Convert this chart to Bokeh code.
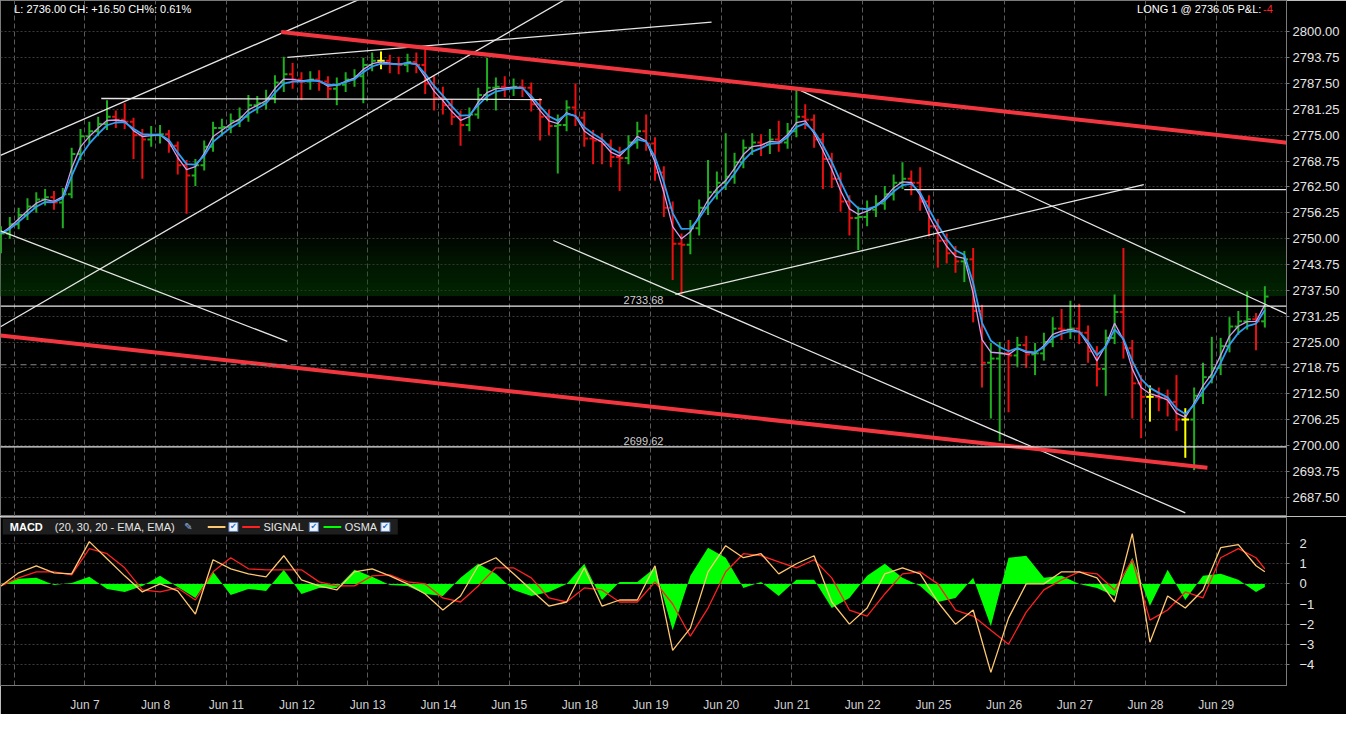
import pandas as pd
from bokeh.plotting import figure
from bokeh.layouts import column
from bokeh.models import (Range1d, FixedTicker, PrintfTickFormatter, Span, Label,
                          ColumnDataSource, CustomJSTickFormatter)
from bokeh.embed import file_html
from bokeh.resources import INLINE

# ---------------- data ----------------
first_open = 2750.50
bar_close = [
    2751.25, 2753.50, 2755.75, 2757.75, 2759.50, 2760.00, 2758.75, 2760.75,
    2770.50, 2774.75, 2776.00, 2777.75, 2779.50, 2778.75, 2778.25, 2775.00,
    2774.00, 2775.00, 2775.25, 2772.50, 2767.75, 2765.25, 2767.75, 2772.25,
    2776.75, 2777.00, 2778.50, 2779.50, 2782.25, 2782.75, 2784.00, 2787.75,
    2789.75, 2788.50, 2788.00, 2788.50, 2788.00, 2786.25, 2787.25, 2788.50,
    2789.25, 2792.00, 2793.00, 2793.00, 2792.25, 2792.00, 2792.75, 2792.00,
    2787.50, 2784.00, 2782.25, 2779.50, 2777.50, 2780.00, 2784.75, 2786.50,
    2786.75, 2786.50, 2786.75, 2786.50, 2782.50, 2779.50, 2777.25, 2777.50,
    2781.75, 2779.25, 2774.25, 2773.75, 2772.75, 2769.75, 2769.50, 2773.25,
    2776.00, 2773.00, 2766.00, 2757.50, 2748.75, 2748.50, 2752.50, 2757.50,
    2761.25, 2763.50, 2765.00, 2768.50, 2772.00, 2773.25, 2772.75, 2774.00,
    2773.25, 2776.00, 2779.50, 2778.75, 2774.00, 2769.25, 2764.50, 2759.00,
    2755.00, 2755.25, 2757.00, 2758.50, 2760.75, 2763.50, 2764.50, 2763.50,
    2759.00, 2753.00, 2749.50, 2746.50, 2744.50, 2745.00, 2732.50, 2720.00,
    2721.00, 2722.25, 2721.75, 2724.25, 2722.00, 2722.25, 2725.00, 2728.25,
    2728.00, 2728.25, 2727.25, 2722.75, 2718.50, 2726.00, 2732.25, 2723.50,
    2715.00, 2711.75, 2711.75, 2711.50, 2710.50, 2706.25, 2706.25, 2712.00,
    2716.50, 2718.75, 2724.00, 2728.75, 2730.00, 2730.50, 2730.00, 2736.00,
]
bar_high = [
    2753.00, 2755.25, 2757.50, 2759.75, 2761.25, 2762.00, 2761.50, 2762.25,
    2772.00, 2776.50, 2778.25, 2779.50, 2783.50, 2781.00, 2782.75, 2779.25,
    2776.50, 2777.25, 2777.50, 2776.25, 2773.50, 2769.00, 2769.25, 2773.75,
    2778.25, 2779.00, 2780.25, 2781.75, 2784.75, 2784.50, 2786.00, 2789.50,
    2794.00, 2792.50, 2790.25, 2790.50, 2790.75, 2789.25, 2789.00, 2790.25,
    2791.00, 2793.75, 2795.00, 2795.25, 2794.50, 2794.00, 2794.75, 2795.00,
    2795.75, 2789.25, 2786.75, 2783.75, 2781.00, 2781.75, 2786.50, 2793.75,
    2789.00, 2789.25, 2788.75, 2788.50, 2787.75, 2784.00, 2781.25, 2780.00,
    2783.50, 2787.50, 2780.75, 2776.25, 2775.50, 2774.00, 2772.25, 2775.00,
    2778.25, 2780.00, 2774.50, 2767.50, 2759.00, 2751.25, 2754.50, 2759.50,
    2769.00, 2766.25, 2775.50, 2770.75, 2774.00, 2775.50, 2775.25, 2776.50,
    2778.50, 2778.00, 2786.25, 2782.50, 2780.00, 2775.50, 2770.75, 2766.00,
    2760.50, 2757.75, 2759.25, 2760.50, 2762.75, 2765.50, 2768.50, 2766.50,
    2767.25, 2760.50, 2754.75, 2751.25, 2748.25, 2747.00, 2747.75, 2734.00,
    2724.75, 2725.00, 2725.50, 2726.25, 2726.50, 2724.75, 2727.25, 2731.00,
    2733.00, 2735.00, 2734.25, 2729.00, 2724.00, 2728.00, 2736.50, 2747.75,
    2725.50, 2717.00, 2714.50, 2714.00, 2713.50, 2717.00, 2709.00, 2714.00,
    2720.00, 2726.25, 2726.00, 2731.00, 2732.50, 2737.25, 2732.00, 2738.50,
]
bar_low = [
    2746.50, 2750.00, 2752.25, 2754.50, 2756.25, 2758.00, 2757.00, 2752.50,
    2759.75, 2769.00, 2773.00, 2774.75, 2776.25, 2776.75, 2776.50, 2769.25,
    2764.50, 2772.25, 2773.00, 2770.75, 2765.50, 2756.00, 2762.75, 2766.50,
    2771.00, 2774.75, 2775.50, 2777.00, 2778.25, 2780.25, 2781.25, 2782.75,
    2785.50, 2786.25, 2783.50, 2786.00, 2785.75, 2784.00, 2782.25, 2785.50,
    2786.75, 2782.75, 2790.50, 2791.00, 2790.00, 2789.75, 2790.25, 2790.00,
    2785.00, 2781.00, 2780.00, 2777.50, 2772.50, 2776.00, 2779.00, 2783.25,
    2781.00, 2784.25, 2784.50, 2784.25, 2780.75, 2773.75, 2775.00, 2765.75,
    2776.00, 2777.25, 2772.25, 2768.00, 2768.00, 2767.25, 2761.50, 2768.00,
    2771.75, 2771.25, 2764.00, 2755.25, 2740.00, 2736.50, 2746.25, 2750.75,
    2755.75, 2759.50, 2761.75, 2763.25, 2767.00, 2770.25, 2770.00, 2770.50,
    2771.00, 2771.75, 2774.50, 2776.50, 2772.00, 2762.00, 2762.25, 2756.50,
    2750.75, 2747.25, 2753.00, 2755.25, 2757.00, 2759.25, 2762.00, 2760.50,
    2756.75, 2750.50, 2743.00, 2744.00, 2741.75, 2739.50, 2729.75, 2714.00,
    2706.50, 2701.00, 2708.00, 2719.00, 2718.75, 2717.00, 2720.50, 2723.75,
    2725.50, 2725.75, 2724.50, 2720.00, 2714.25, 2712.00, 2724.50, 2721.00,
    2706.50, 2701.75, 2705.75, 2708.25, 2707.00, 2703.50, 2697.00, 2694.00,
    2710.00, 2715.00, 2717.00, 2722.50, 2726.75, 2728.00, 2723.00, 2728.50,
]

day_labels = ["Jun 7", "Jun 8", "Jun 11", "Jun 12", "Jun 13", "Jun 14", "Jun 15",
              "Jun 18", "Jun 19", "Jun 20", "Jun 21", "Jun 22", "Jun 25", "Jun 26",
              "Jun 27", "Jun 28", "Jun 29"]
price_ticks = [2687.50, 2693.75, 2700.00, 2706.25, 2712.50, 2718.75, 2725.00, 2731.25,
               2737.50, 2743.75, 2750.00, 2756.25, 2762.50, 2768.75, 2775.00, 2781.25,
               2787.50, 2793.75, 2800.00]
macd_ticks = [-4, -3, -2, -1, 0, 1, 2]

# MACD (20,30,20) readings, one every two bars plus the last bar
macd_vals = [-0.1, 0.55, 0.9, 0.55, 0.5, 2.1, 1.25, 0.4, -0.4, 0.0,
             -0.35, -1.5, 1.2, 0.75, 0.5, 0.35, 1.4, 0.2, -0.1, -0.3,
             0.6, 0.75, 0.4, 0.0, -0.5, -1.3, -0.6, 0.9, 1.3, 0.5,
             -0.3, -1.1, -0.9, 0.8, -1.1, -0.8, -0.8, 0.9, -3.3, -2.2,
             0.6, 1.9, 1.3, 1.5, 0.5, 1.0, 1.4, -0.9, -2.0, -1.2,
             0.5, 0.8, 0.5, -0.9, -2.0, -1.3, -4.4, -1.7, 0.0, 0.0,
             0.6, 0.6, 0.3, -0.9, 2.5, -2.9, -0.6, -1.2, -0.3, 1.8,
             1.95, 0.9, 0.6]
signal_vals = [-0.1, 0.3, 0.6, 0.6, 0.45, 1.75, 1.5, 0.8, -0.3, -0.4,
               -0.2, -0.8, 0.6, 1.3, 0.75, 0.7, 0.7, 0.7, 0.1, -0.1,
               -0.1, 0.4, 0.45, 0.1, 0.0, -0.7, -0.9, -0.1, 0.8, 0.8,
               0.3, -0.7, -0.9, -0.2, -0.3, -0.9, -0.9, 0.1, -1.0, -2.6,
               -1.2, 0.6, 1.5, 1.4, 1.1, 0.8, 1.2, 0.3, -1.3, -1.6,
               -0.5, 0.5, 0.6, 0.0, -1.3, -1.6, -2.3, -3.0, -1.4, -0.3,
               0.2, 0.6, 0.5, -0.3, 1.2, -1.8, -1.3, -0.4, -0.7, 1.3,
               1.75, 1.3, 0.75]

long_price = 2736.05
level_a = 2733.68
level_b = 2699.62
prev_close = 2719.50

# trend lines drawn on the chart: (x0 bar, price0, x1 bar, price1)
red_lines = [(31.7, 2800.00, 150.0, 2772.15),
             (-0.05, 2726.60, 136.5, 2694.60)]
white_lines = [(-0.05, 2770.15, 45.0, 2812.00),
               (-0.05, 2728.70, 70.0, 2815.50),
               (32.4, 2793.85, 80.4, 2802.35),
               (11.35, 2783.90, 61.2, 2783.65),
               (-0.05, 2751.90, 32.4, 2725.15),
               (62.5, 2749.55, 134.0, 2683.70),
               (76.3, 2736.50, 129.3, 2763.05),
               (90.5, 2785.80, 150.0, 2727.30),
               (102.2, 2761.85, 150.0, 2761.85)]

# ---------------- derived ----------------
n = len(bar_close)
bar_x = list(range(n))
bar_open = [first_open] + bar_close[:-1]
cols = []
for o, c in zip(bar_open, bar_close):
    if c == o:
        cols.append("#ffff00")
    elif c > o:
        cols.append("#1fae1f")
    else:
        cols.append("#e81010")
ema_fast = pd.Series(bar_close).ewm(span=2, adjust=False).mean().tolist()
ema_slow = pd.Series(bar_close).ewm(span=3, adjust=False).mean().tolist()

macd_x = list(range(0, n - 1, 2)) + [n - 1]
osma = [m - s for m, s in zip(macd_vals, signal_vals)]

day_lines = [1.5 + 8 * d for d in range(18)]
day_label_pos = [1.5 + 8 * (d + 1) for d in range(len(day_labels))]

FONT = "Liberation Sans"
BG = "#000000"
W = 1346
XR = Range1d(-0.05, 145.45)
GRID = "#3a3a3a"
VGRID = "#5a5a5a"
AXC = "#7a7a7a"

# ---------------- price panel ----------------
p = figure(width=W, height=516, x_range=XR, y_range=Range1d(2682.8, 2807.6),
           output_backend="svg", toolbar_location=None, x_axis_location=None,
           y_axis_location="right", background_fill_color=BG, border_fill_color=BG,
           min_border_left=0, min_border_right=60, min_border_top=0, min_border_bottom=0,
           outline_line_color=AXC)
ax = p.yaxis[0]
ax.ticker = FixedTicker(ticks=price_ticks)
ax.formatter = PrintfTickFormatter(format="%.2f")
ax.major_label_text_font = FONT
ax.major_label_text_font_size = "13px"
ax.major_label_text_color = "#e6e6e6"
ax.axis_line_color = AXC
ax.major_tick_line_color = AXC
ax.major_tick_out = 3
ax.major_tick_in = 0
ax.minor_tick_line_color = None
ax.major_label_standoff = 3
p.ygrid.ticker = FixedTicker(ticks=price_ticks)
p.ygrid.grid_line_color = GRID
p.ygrid.grid_line_dash = "2 2"
p.xgrid.ticker = FixedTicker(ticks=day_lines)
p.xgrid.grid_line_color = VGRID
p.xgrid.grid_line_dash = "5 3"

# green position band, fading upward
for k in range(14):
    p.quad(left=-1, right=150, bottom=long_price, top=long_price + 1.1 * (k + 1),
           fill_color="#17501a", fill_alpha=0.055, line_color=None)

p.add_layout(Span(location=prev_close, dimension="width", line_color="#8a8a8a",
                  line_width=1, line_dash="6 4"))
p.add_layout(Span(location=level_a, dimension="width", line_color="#e8e8e8", line_width=1.3))
p.add_layout(Span(location=level_b, dimension="width", line_color="#e8e8e8", line_width=1.3))
for lv, txt in [(level_a, "2733.68"), (level_b, "2699.62")]:
    p.add_layout(Label(x=72.7, y=lv + 0.4, text=txt, text_color="#cfcfcf", text_font=FONT,
                       text_font_size="11px", text_align="center", text_baseline="bottom"))

src = ColumnDataSource(dict(x=bar_x, xl=[x - 0.42 for x in bar_x], xr=[x + 0.42 for x in bar_x],
                            o=bar_open, h=bar_high, l=bar_low, c=bar_close, col=cols))
p.segment(x0="x", y0="l", x1="x", y1="h", line_color="col", line_width=2, source=src)
p.segment(x0="xl", y0="o", x1="x", y1="o", line_color="col", line_width=2, source=src)
p.segment(x0="x", y0="c", x1="xr", y1="c", line_color="col", line_width=2, source=src)

p.line(bar_x, ema_fast, line_color="#d39df2", line_width=1.3)
p.line(bar_x, ema_slow, line_color="#2f9ff5", line_width=1.8)

p.segment(x0=[s[0] for s in white_lines], y0=[s[1] for s in white_lines],
          x1=[s[2] for s in white_lines], y1=[s[3] for s in white_lines],
          line_color="#e6e6e6", line_width=1.3)
p.segment(x0=[s[0] for s in red_lines], y0=[s[1] for s in red_lines],
          x1=[s[2] for s in red_lines], y1=[s[3] for s in red_lines],
          line_color="#f2363f", line_width=4)

p.add_layout(Label(x=1.5, y=2805.6, text="L: 2736.00 CH: +16.50 CH%: 0.61%",
                   text_color="#ffffff", text_font=FONT, text_font_size="11px",
                   text_baseline="middle"))
p.add_layout(Label(x=142.6, y=2805.6, text="LONG 1 @ 2736.05 P&L:", text_color="#ffffff",
                   text_font=FONT, text_font_size="11px", text_baseline="middle",
                   text_align="right"))
p.add_layout(Label(x=143.9, y=2805.6, text="-4", text_color="#ff2020", text_font=FONT,
                   text_font_size="11px", text_baseline="middle", text_align="right"))

# ---------------- MACD panel ----------------
q = figure(width=W, height=198, x_range=XR, y_range=Range1d(-5.05, 3.3),
           output_backend="svg", toolbar_location=None, y_axis_location="right",
           x_axis_location="below", background_fill_color=BG, border_fill_color=BG,
           min_border_left=0, min_border_right=60, min_border_top=1, min_border_bottom=0,
           outline_line_color=AXC)
qa = q.yaxis[0]
qa.ticker = FixedTicker(ticks=macd_ticks)
qa.major_label_text_font = FONT
qa.major_label_text_font_size = "13px"
qa.major_label_text_color = "#e6e6e6"
qa.axis_line_color = AXC
qa.major_tick_line_color = AXC
qa.major_tick_out = 3
qa.major_tick_in = 0
qa.minor_tick_line_color = None
qa.major_label_standoff = 10
xa = q.xaxis[0]
xa.ticker = FixedTicker(ticks=day_label_pos)
xa.formatter = CustomJSTickFormatter(args=dict(pos=day_label_pos, labs=day_labels), code="""
const i = pos.findIndex(v => Math.abs(v - tick) < 1e-6);
return i >= 0 ? labs[i] : "";
""")
xa.major_label_text_font = FONT
xa.major_label_text_font_size = "12px"
xa.major_label_text_color = "#d0d0d0"
xa.axis_line_color = AXC
xa.major_tick_line_color = None
xa.minor_tick_line_color = None
xa.major_label_standoff = 6
q.ygrid.ticker = FixedTicker(ticks=macd_ticks)
q.ygrid.grid_line_color = GRID
q.ygrid.grid_line_dash = "2 2"
q.xgrid.ticker = FixedTicker(ticks=day_lines)
q.xgrid.grid_line_color = VGRID
q.xgrid.grid_line_dash = "5 3"

q.varea(x=macd_x, y1=[0] * len(osma), y2=osma, fill_color="#00ff00")
q.line(macd_x, signal_vals, line_color="#ff2020", line_width=1.3)
q.line(macd_x, macd_vals, line_color="#ffc870", line_width=1.3)

# legend strip
q.quad(left=0.2, right=44.9, bottom=2.45, top=3.22, fill_color="#1e1e1e", line_color=None)
ly = 2.83
q.add_layout(Label(x=1.0, y=ly, text="MACD", text_color="#ffffff", text_font=FONT,
                   text_font_size="11px", text_font_style="bold", text_baseline="middle"))
q.add_layout(Label(x=6.1, y=ly, text="(20, 30, 20 - EMA, EMA)", text_color="#e6e6e6",
                   text_font=FONT, text_font_size="11px", text_baseline="middle"))
q.add_layout(Label(x=21.2, y=ly, text="✎", text_color="#8fb8e0", text_font="DejaVu Sans",
                   text_font_size="10px", text_baseline="middle", text_align="center"))
q.segment(x0=[23.4, 27.3, 36.5], y0=[ly] * 3, x1=[25.4, 29.3, 38.5], y1=[ly] * 3,
          line_color=["#ffc870", "#ff2020", "#00ff00"], line_width=2)
q.add_layout(Label(x=29.7, y=ly, text="SIGNAL", text_color="#e6e6e6", text_font=FONT,
                   text_font_size="11px", text_baseline="middle"))
q.add_layout(Label(x=38.9, y=ly, text="OSMA", text_color="#e6e6e6", text_font=FONT,
                   text_font_size="11px", text_baseline="middle"))
box_x = [26.3, 35.4, 43.5]
q.scatter(x=box_x, y=[ly] * 3, marker="square", size=9, fill_color="#eef3fa",
          line_color="#5a7fb5", line_width=1)
for bx in box_x:
    q.add_layout(Label(x=bx, y=ly, text="✔", text_color="#2a6cc4", text_font="DejaVu Sans",
                       text_font_size="8px", text_baseline="middle", text_align="center"))

layout = column(p, q, spacing=0)
open("out.html", "w").write(file_html(layout, INLINE))
